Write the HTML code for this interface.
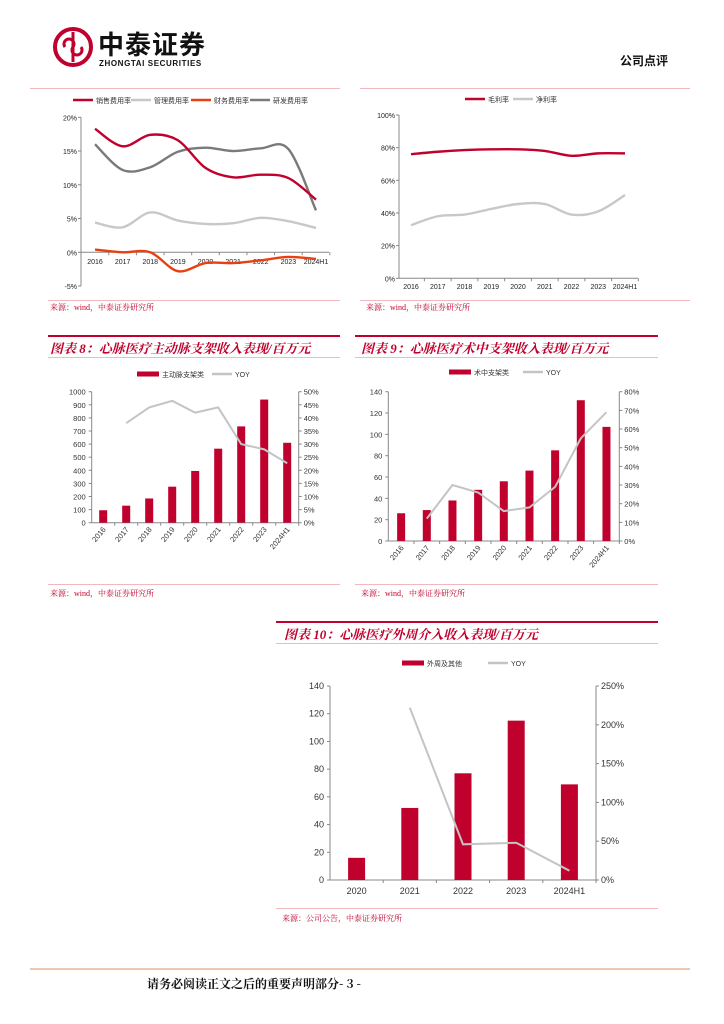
<!DOCTYPE html>
<html><head><meta charset="utf-8">
<style>
html,body{margin:0;padding:0;background:#fff;}
body{width:724px;height:1024px;position:relative;overflow:hidden;font-family:"Liberation Sans","Noto Sans CJK SC",sans-serif;}
.abs{position:absolute;}
.title{position:absolute;font-family:"Liberation Serif","Noto Serif CJK SC",serif;font-style:italic;font-weight:bold;color:#c0002d;font-size:13px;white-space:nowrap;}
.src{position:absolute;font-family:"Liberation Serif","Noto Serif CJK SC",serif;color:#c0002d;font-size:8px;white-space:nowrap;}
.hl{position:absolute;height:1px;background:#f2b8bf;}
.rl{position:absolute;height:2px;background:#c0002d;}
svg text{font-family:"Liberation Sans","Noto Sans CJK SC",sans-serif;}
</style></head><body>
<div class="abs" style="left:52px;top:26px;width:230px;height:46px;">
<svg width="230" height="46"><circle cx="21" cy="21" r="18" fill="none" stroke="#c0002d" stroke-width="4"/><path d="M21 6 V36 M13 21 a5 5 0 1 1 8 0 a5 5 0 1 0 8 0" fill="none" stroke="#c0002d" stroke-width="3"/></svg>
</div>
<div class="abs" style="left:98px;top:29px;font-size:26px;font-weight:bold;color:#111;letter-spacing:1px;font-family:'Noto Sans CJK SC',sans-serif;line-height:30px;">中泰证券</div>
<div class="abs" style="left:99px;top:59px;font-size:8px;font-weight:bold;color:#111;letter-spacing:0.6px;">ZHONGTAI SECURITIES</div>
<div class="abs" style="left:620px;top:52px;font-size:12px;font-weight:bold;color:#111;font-family:'Noto Sans CJK SC',sans-serif;">公司点评</div>

<div class="hl" style="left:30px;top:88px;width:310px;"></div>
<div class="hl" style="left:360px;top:88px;width:330px;"></div>
<div class="hl" style="left:48px;top:300px;width:292px;"></div>
<div class="hl" style="left:360px;top:300px;width:330px;"></div>
<div class="src" style="left:50px;top:302px;">来源：wind，中泰证券研究所</div>
<div class="src" style="left:366px;top:302px;">来源：wind，中泰证券研究所</div>

<div class="rl" style="left:48px;top:335px;width:292px;"></div>
<div class="title" style="left:50px;top:338px;">图表 8：心脉医疗主动脉支架收入表现/百万元</div>
<div class="hl" style="left:48px;top:357px;width:292px;"></div>
<div class="rl" style="left:355px;top:335px;width:303px;"></div>
<div class="title" style="left:361px;top:338px;">图表 9：心脉医疗术中支架收入表现/百万元</div>
<div class="hl" style="left:355px;top:357px;width:303px;"></div>
<div class="hl" style="left:48px;top:584px;width:292px;"></div>
<div class="hl" style="left:355px;top:584px;width:303px;"></div>
<div class="src" style="left:50px;top:588px;">来源：wind，中泰证券研究所</div>
<div class="src" style="left:361px;top:588px;">来源：wind，中泰证券研究所</div>

<div class="rl" style="left:276px;top:621px;width:382px;"></div>
<div class="title" style="left:284px;top:624px;">图表 10：心脉医疗外周介入收入表现/百万元</div>
<div class="hl" style="left:276px;top:643px;width:382px;"></div>
<div class="hl" style="left:276px;top:908px;width:382px;"></div>
<div class="src" style="left:282px;top:913px;">来源：公司公告，中泰证券研究所</div>

<div class="abs" style="left:30px;top:968px;width:660px;height:2px;background:#ecc9b0;"></div>
<div class="abs" style="left:147px;top:975px;font-size:12px;font-weight:bold;color:#111;font-family:'Noto Serif CJK SC',serif;">请务必阅读正文之后的重要声明部分- 3 -</div>

<svg id="sv" class="abs" style="left:0;top:0" width="724" height="1024"></svg>

<script>
// Chart 1: expense ratios (%)
var c1Cats = ["2016","2017","2018","2019","2020","2021","2022","2023","2024H1"];
var c1Sales = [18.3,15.7,17.4,16.6,12.5,11.1,11.5,11.0,7.8];
var c1Admin = [4.4,3.7,5.9,4.7,4.2,4.3,5.1,4.6,3.6];
var c1Fin = [0.4,0.0,0.0,-2.8,-1.6,-1.6,-1.2,-0.7,-1.0];
var c1RD = [16.0,12.2,12.6,14.9,15.5,15.0,15.4,15.3,6.2];
var c1Ticks = [20,15,10,5,0,-5];
// Chart 2: margins (%)
var c2Cats = ["2016","2017","2018","2019","2020","2021","2022","2023","2024H1"];
var c2Gross = [76.0,77.5,78.5,79.0,79.0,78.0,75.0,76.5,76.5];
var c2Net = [32.5,38.0,39.0,42.5,45.5,45.5,39.0,41.0,51.0];
var c2Ticks = [0,20,40,60,80,100];
// Chart 8
var c8Cats = ["2016","2017","2018","2019","2020","2021","2022","2023","2024H1"];
var c8Rev = [95,130,185,275,395,565,735,940,610];
var c8Yoy = [null,38,44,46.5,42,44,30,28,22.7];
var c8LTicks = [0,100,200,300,400,500,600,700,800,900,1000];
var c8RTicks = [0,5,10,15,20,25,30,35,40,45,50];
// Chart 9
var c9Cats = ["2016","2017","2018","2019","2020","2021","2022","2023","2024H1"];
var c9Rev = [26,29,38,48,56,66,85,132,107];
var c9Yoy = [null,12,30,26,16,18,29,55,69];
var c9LTicks = [0,20,40,60,80,100,120,140];
var c9RTicks = [0,10,20,30,40,50,60,70,80];
// Chart 10
var c10Cats = ["2020","2021","2022","2023","2024H1"];
var c10Rev = [16,52,77,115,69];
var c10Yoy = [null,222,46,48,12];
var c10LTicks = [0,20,40,60,80,100,120,140];
var c10RTicks = [0,50,100,150,200,250];

var NS="http://www.w3.org/2000/svg", sv=document.getElementById('sv');
function mk(tag,a,parent){var e=document.createElementNS(NS,tag);for(var k in a)e.setAttribute(k,a[k]);(parent||sv).appendChild(e);return e;}
function txt(x,y,s,size,anchor,fill,rot){var t=mk('text',{x:x,y:y,'font-size':size,'text-anchor':anchor||'middle',fill:fill||'#222'});if(rot)t.setAttribute('transform','rotate('+rot+' '+x+' '+y+')');t.textContent=s;return t;}
function lin(x1,y1,x2,y2,c,w){return mk('line',{x1:x1,y1:y1,x2:x2,y2:y2,stroke:c||'#999','stroke-width':w||1});}
function smooth(p){var d='M'+p[0][0]+' '+p[0][1];for(var i=0;i<p.length-1;i++){var p0=p[i-1]||p[i],p1=p[i],p2=p[i+1],p3=p[i+2]||p2;d+=' C'+(p1[0]+(p2[0]-p0[0])/6)+' '+(p1[1]+(p2[1]-p0[1])/6)+' '+(p2[0]-(p3[0]-p1[0])/6)+' '+(p2[1]-(p3[1]-p1[1])/6)+' '+p2[0]+' '+p2[1];}return d;}
function straight(p){return p.map(function(q,i){return (i?'L':'M')+q[0]+' '+q[1];}).join(' ');}

// ---------- line charts ----------
function lineChart(o){
  var y=function(v){return o.y0+(v-o.vmin)/(o.vmax-o.vmin)*(o.y1-o.y0);};
  var x=function(i){return o.xf+i*(o.xl-o.xf)/(o.cats.length-1);};
  var ax=lin(o.ax,y(o.vmax),o.ax,y(o.vmin),'#888');
  
  
  o.ticks.forEach(function(t){lin(o.ax-3,y(t),o.ax,y(t),'#888');
    var tl=txt(o.ax-4,y(t)+3,t+'%',7,'end');
    
    });
  var xa=lin(o.ax,y(o.base),o.xend,y(o.base),'#888');
  
  
  var step=(o.xl-o.xf)/(o.cats.length-1);
  o.cats.forEach(function(c,i){lin(x(i)+step/2,y(o.base),x(i)+step/2,y(o.base)+3,'#888');
    var cl=txt(x(i),o.labY,c,7,'middle');
    
    });
  o.series.forEach(function(s){
    var pts=s.v.map(function(v,i){return [x(i),y(v)];});
    var p=mk('path',{d:smooth(pts),fill:'none',stroke:s.c,'stroke-width':2.4});
    
    
  });
}
lineChart({name:'expense-chart',cats:c1Cats,ticks:c1Ticks,vmin:20,vmax:-5,y0:117.3,y1:286,base:0,ax:81,xf:95,xl:316,xend:329,labY:264,
  series:[{v:c1Admin,c:'#c8c8c8',n:'admin-expense-line'},{v:c1Fin,c:'#e84010',n:'finance-expense-line'},{v:c1RD,c:'#7a7a7a',n:'rd-expense-line'},{v:c1Sales,c:'#c0002d',n:'sales-expense-line'}]});
// chart1 y mapping: y0 is at value vmin(20)...
lineChart({name:'margin-chart',cats:c2Cats,ticks:c2Ticks,vmin:100,vmax:0,y0:115,y1:278.3,base:0,ax:399,xf:411,xl:625,xend:638,labY:289,
  series:[{v:c2Net,c:'#c8c8c8',n:'net-margin-line'},{v:c2Gross,c:'#c0002d',n:'gross-margin-line'}]});

// legends
function legLine(x,y,c,label,n){var l=lin(x,y,x+20,y,c,2.5);
  var t=txt(x+23,y+3,label,7,'start','#333');}
function legBar(x,y,label,n){var r=mk('rect',{x:x,y:y-2.5,width:22,height:5,fill:'#c0002d'});
  var t=txt(x+25,y+3,label,7,'start','#333');}
legLine(73,100,'#c0002d','销售费用率','legend-sales');
legLine(131,100,'#c8c8c8','管理费用率','legend-admin');
legLine(191,100,'#e84010','财务费用率','legend-finance');
legLine(250,100,'#7a7a7a','研发费用率','legend-rd');
legLine(465,99,'#c0002d','毛利率','legend-gross');
legLine(513,99,'#c8c8c8','净利率','legend-net');

// ---------- combo bar charts ----------
function combo(o){
  var yl=function(v){return o.yb-(v/o.lmax)*(o.yb-o.yt);};
  var yr=function(v){return o.yb-(v/o.rmax)*(o.yb-o.yt);};
  var step=(o.xr-o.xl)/o.cats.length;
  var x=function(i){return o.xl+step*(i+0.5);};
  var a1=lin(o.xl,o.yt,o.xl,o.yb,'#888');
  var a2=lin(o.xr,o.yt,o.xr,o.yb,'#888');
  var a3=lin(o.xl,o.yb,o.xr,o.yb,'#888');
  o.lt.forEach(function(t){lin(o.xl-3,yl(t),o.xl,yl(t),'#888');var l=txt(o.xl-6,yl(t)+3,String(t),o.fs,'end','#333');
    });
  o.rt.forEach(function(t){lin(o.xr,yr(t),o.xr+3,yr(t),'#888');var l=txt(o.xr+5,yr(t)+3,t+'%',o.fs,'start','#333');
    });
  o.cats.forEach(function(c,i){lin(o.xl+step*(i+1),o.yb,o.xl+step*(i+1),o.yb+3,'#888');
    var l;
    if(o.rot){l=txt(x(i)+3,o.yb+7,c,o.fs,'end','#333',-50);}
    else{l=txt(x(i),o.yb+14,c,o.fs,'middle','#333');}
    
    var b=mk('rect',{x:x(i)-o.bw/2,y:yl(o.rev[i]),width:o.bw,height:o.yb-yl(o.rev[i]),fill:'#c0002d'});
    
  });
  var pts=[];o.yoy.forEach(function(v,i){if(v!==null)pts.push([x(i),yr(v)]);});
  var p=mk('path',{d:straight(pts),fill:'none',stroke:'#c4c4c4','stroke-width':2});
  
}
combo({name:'aortic-chart',cats:c8Cats,rev:c8Rev,yoy:c8Yoy,lt:c8LTicks,rt:c8RTicks,lmax:1000,rmax:50,xl:91.7,xr:298.7,yt:391.7,yb:522.7,bw:8,fs:7.5,rot:true});
combo({name:'intraop-chart',cats:c9Cats,rev:c9Rev,yoy:c9Yoy,lt:c9LTicks,rt:c9RTicks,lmax:140,rmax:80,xl:388.3,xr:619.3,yt:391.7,yb:541,bw:8,fs:7.5,rot:true});
combo({name:'peripheral-chart',cats:c10Cats,rev:c10Rev,yoy:c10Yoy,lt:c10LTicks,rt:c10RTicks,lmax:140,rmax:250,xl:330,xr:596,yt:686,yb:880,bw:17,fs:9,rot:false});
legBar(137,374,'主动脉支架类','legend-aortic');legLine(212,374,'#c4c4c4','YOY','legend-aortic-yoy');
legBar(449,372,'术中支架类','legend-intraop');legLine(523,372,'#c4c4c4','YOY','legend-intraop-yoy');
legBar(402,663,'外周及其他','legend-peripheral');legLine(488,663,'#c4c4c4','YOY','legend-peripheral-yoy');
</script>
</body></html>
